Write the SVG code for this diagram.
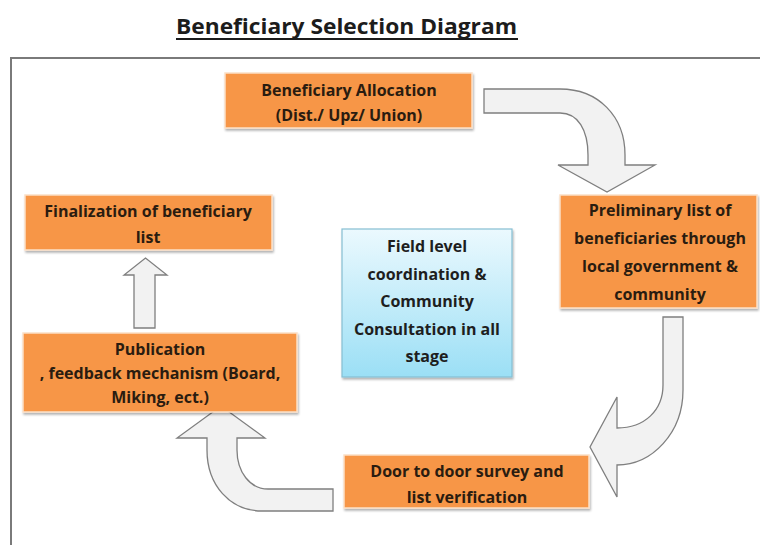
<svg xmlns="http://www.w3.org/2000/svg" width="760" height="545" viewBox="0 0 760 545">
  <style>
    .title { font-family: "Open Sans", "Liberation Sans", sans-serif; font-weight: 700; font-size: 21px; fill: #1c1c1c; }
    .box { fill: #F79646; stroke: #fbe0c8; stroke-width: 1.5; filter: url(#shadow); }
    .info { fill: url(#blueGrad); stroke: #86bfd2; stroke-width: 1.2; filter: url(#shadow); }
    .lbl { font-family: "Open Sans", "Liberation Sans", sans-serif; font-weight: 700; font-size: 16px; fill: #2a1c10; text-anchor: middle; }
    .lbl2 { font-family: "Open Sans", "Liberation Sans", sans-serif; font-weight: 700; font-size: 16px; fill: #1e1e1e; text-anchor: middle; }
    .flow { fill: #f2f2f2; stroke: #7f7f7f; stroke-width: 1.3; stroke-linejoin: miter; }
  </style>
  <defs>
    <linearGradient id="blueGrad" x1="0" y1="0" x2="0" y2="1">
      <stop offset="0" stop-color="#ebf9fe"/>
      <stop offset="1" stop-color="#9bdff5"/>
    </linearGradient>
    <filter id="shadow" x="-5%" y="-10%" width="112%" height="125%">
      <feDropShadow dx="1" dy="2" stdDeviation="1" flood-color="#000" flood-opacity="0.3"/>
    </filter>
  </defs>

  <rect width="760" height="545" fill="#ffffff"/>

  <!-- heading -->
  <text class="title" x="176" y="34" textLength="341" lengthAdjust="spacingAndGlyphs">Beneficiary Selection Diagram</text>
  <line x1="176" y1="39" x2="518" y2="39" stroke="#1c1c1c" stroke-width="1.8"/>

  <!-- outer frame -->
  <path d="M11,545 V58 H760" fill="none" stroke="#7a7a7a" stroke-width="2"/>

  <!-- connectors -->
  <g id="connectors">
    <path class="flow" d="M484,89 H560 C598,89 625,116 625,155 V165 H655 L607,192 L558,165 H588 V155 C588,130 578,113 560,113 H484 Z"/>
    <path class="flow" d="M663,317 H683 V390 C683,433 652,465 617,465 V497 L590,447 L617,397 V428 C645,428 663,410 663,385 Z"/>
    <path class="flow" d="M333,489 V511 H262 C230,511 207,485 207,450 V438 H177 L221,406 L265,438 H237 V450 C237,472 250,489 268,489 Z"/>
    <path class="flow" d="M134,328 V275 H124 L145.5,258 L167,275 H155 V328 Z"/>
  </g>

  <g id="allocation">
    <rect class="box" x="225" y="73" width="247" height="55"/>
    <text class="lbl" x="349" y="96">Beneficiary Allocation</text>
    <text class="lbl" x="349" y="121">(Dist./ Upz/ Union)</text>
  </g>

  <g id="preliminary">
    <rect class="box" x="560" y="195" width="197" height="113"/>
    <text class="lbl" x="660" y="216">Preliminary list of</text>
    <text class="lbl" x="660" y="244">beneficiaries through</text>
    <text class="lbl" x="660" y="272">local government &amp;</text>
    <text class="lbl" x="660" y="300">community</text>
  </g>

  <g id="survey">
    <rect class="box" x="344" y="455" width="245" height="53"/>
    <text class="lbl" x="467" y="477">Door to door survey and</text>
    <text class="lbl" x="467" y="503">list verification</text>
  </g>

  <g id="publication">
    <rect class="box" x="23" y="333" width="274" height="79"/>
    <text class="lbl" x="160" y="355">Publication</text>
    <text class="lbl" x="160" y="379">, feedback mechanism (Board,</text>
    <text class="lbl" x="160" y="403">Miking, ect.)</text>
  </g>

  <g id="finalization">
    <rect class="box" x="25" y="195" width="247" height="55"/>
    <text class="lbl" x="148" y="217">Finalization of beneficiary</text>
    <text class="lbl" x="148" y="243">list</text>
  </g>

  <g id="coordination">
    <rect class="info" x="342" y="229" width="170" height="148"/>
    <text class="lbl2" x="427" y="252">Field level</text>
    <text class="lbl2" x="427" y="280">coordination &amp;</text>
    <text class="lbl2" x="427" y="307">Community</text>
    <text class="lbl2" x="427" y="335">Consultation in all</text>
    <text class="lbl2" x="427" y="362">stage</text>
  </g>
</svg>
